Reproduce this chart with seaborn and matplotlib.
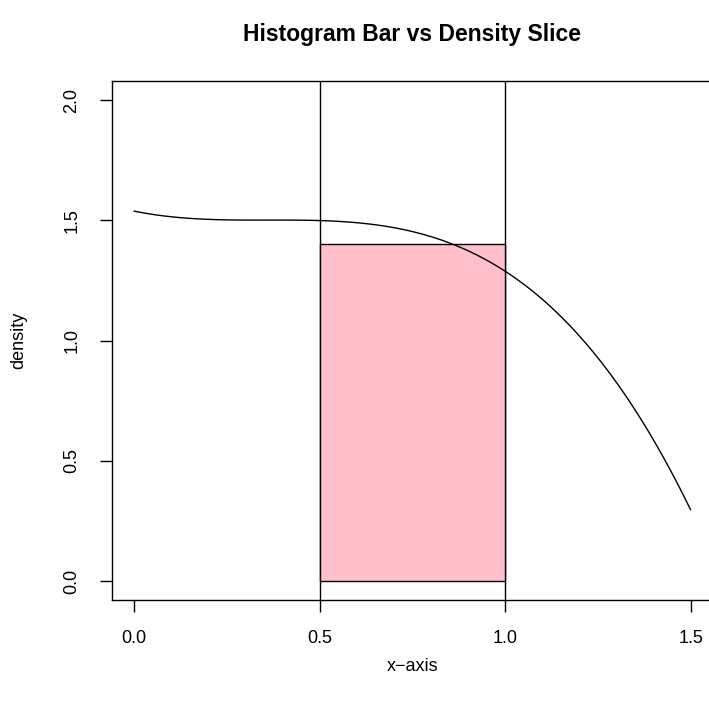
import matplotlib
matplotlib.use("Agg")
import matplotlib.pyplot as plt
import seaborn as sns
import numpy as np
import pandas as pd

# ---- data ----
curve_x = [0.0, 0.155, 0.245, 0.5, 0.577, 0.667, 0.757, 0.846, 0.936, 1.0,
           1.076, 1.166, 1.256, 1.298, 1.315, 1.365, 1.418, 1.5]
curve_y = [1.535, 1.510, 1.504, 1.500, 1.494, 1.479, 1.452, 1.403, 1.342, 1.285,
           1.206, 1.068, 0.916, 0.833, 0.792, 0.695, 0.543, 0.281]
bar_edges = [0.5, 1.0]
bar_height = [1.4]
vlines = [0.5, 1.0]
xticks = [0.0, 0.5, 1.0, 1.5]
yticks = [0.0, 0.5, 1.0, 1.5, 2.0]
title = "Histogram Bar vs Density Slice"
xlabel = "x\u2212axis"
ylabel = "density"

sns.set_style("white")
plt.rcParams["font.family"] = ["Liberation Sans", "DejaVu Sans"]
plt.rcParams["text.color"] = "black"
plt.rcParams["axes.labelcolor"] = "black"
plt.rcParams["xtick.color"] = "black"
plt.rcParams["ytick.color"] = "black"

fig = plt.figure(figsize=(7.09, 7.04), dpi=100)
ax = fig.add_axes([0.1575, 0.1474, 0.848, 0.7378])

for v in vlines:
    ax.axvline(v, color="black", lw=1.0, zorder=1)

bar_df = pd.DataFrame({"x": [(bar_edges[0] + bar_edges[1]) / 2], "w": bar_height})
sns.histplot(data=bar_df, x="x", weights="w", bins=bar_edges, stat="count",
             color="pink", edgecolor="black", linewidth=1.0, alpha=1.0, ax=ax, zorder=2)

curve_df = pd.DataFrame({"x": curve_x, "y": curve_y})
sns.regplot(data=curve_df, x="x", y="y", order=3, ci=None, scatter=False,
            line_kws={"color": "black", "lw": 1.0, "zorder": 3}, ax=ax)

ax.set_xlim(-0.06, 1.56)
ax.set_ylim(-0.08, 2.08)
ax.set_xticks(xticks)
ax.set_xticklabels([f"{t:.1f}" for t in xticks], fontsize=13, color="black")
ax.set_yticks(yticks)
ax.set_yticklabels([f"{t:.1f}" for t in yticks], fontsize=13, rotation=90,
                   va="center", color="black")
ax.tick_params(axis="both", direction="out", length=8.5, width=1.0, color="black",
               left=True, bottom=True)
ax.tick_params(axis="x", pad=13)
ax.tick_params(axis="y", pad=14)
for s in ax.spines.values():
    s.set_color("black")
    s.set_linewidth(1.0)
    s.set_visible(True)

ax.set_xlabel(xlabel, fontsize=13, labelpad=8, color="black")
ax.set_ylabel(ylabel, fontsize=13, labelpad=26, color="black")
fig.text(0.581, 1 - 35 / 704, title, ha="center", va="center",
         fontsize=16.5, fontweight="bold", color="black")

fig.savefig("out.png", dpi=100, facecolor="white")
